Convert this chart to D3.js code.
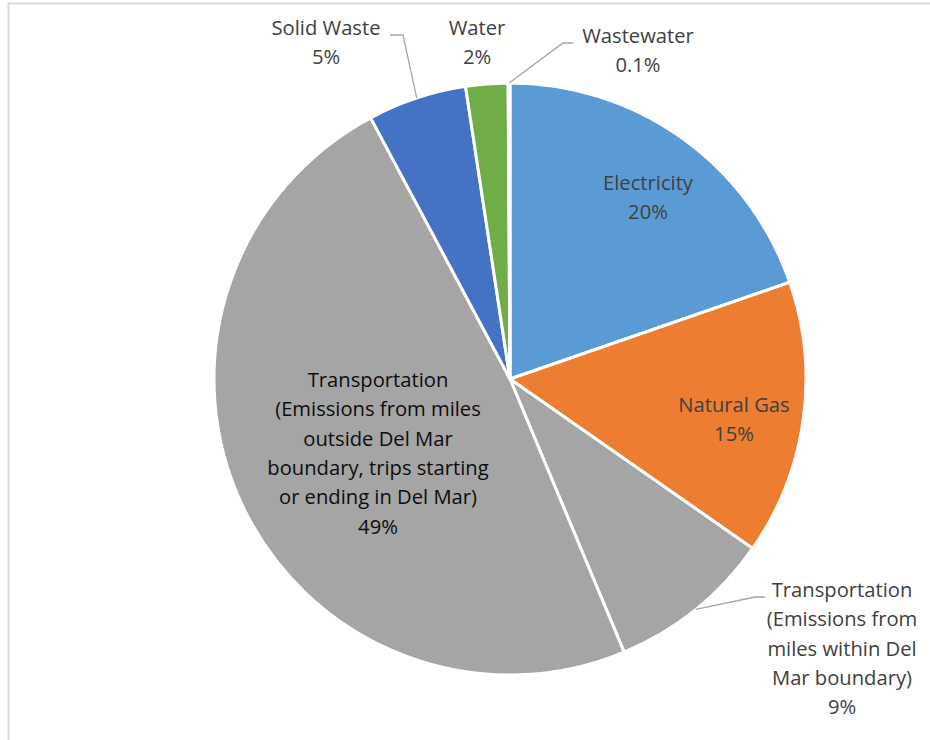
<!DOCTYPE html>
<html>
<head>
<meta charset="utf-8">
<script src="https://cdn.jsdelivr.net/npm/d3@7"></script>
<style>
  html, body { margin: 0; padding: 0; background: #fff; }
  svg { display: block; }
  text { font-family: "Open Sans", Lato, sans-serif; }
</style>
</head>
<body>
<svg id="chart" width="930" height="740"></svg>
<script>
// ---- data ----
const categories = [
  "Electricity",
  "Natural Gas",
  "Transportation (Emissions from miles within Del Mar boundary)",
  "Transportation (Emissions from miles outside Del Mar boundary, trips starting or ending in Del Mar)",
  "Solid Waste",
  "Water",
  "Wastewater"
];
const values = [19.7, 15.0, 9.0, 48.5, 5.4, 2.3, 0.1];
const percentLabels = ["20%", "15%", "9%", "49%", "5%", "2%", "0.1%"];
const labelLines = [
  ["Electricity"],
  ["Natural Gas"],
  ["Transportation", "(Emissions from", "miles within Del", "Mar boundary)"],
  ["Transportation", "(Emissions from miles", "outside Del Mar", "boundary, trips starting", "or ending in Del Mar)"],
  ["Solid Waste"],
  ["Water"],
  ["Wastewater"]
];
const colors = ["#5B9BD5", "#ED7D31", "#A5A5A5", "#A5A5A5", "#4472C4", "#70AD47", "#255E91"];

// ---- layout ----
const W = 930, H = 740;
const cx = 510, cy = 379, R = 296;
const lineH = 29.3;
const fontSize = 20.2;
// label placement: x center, first baseline, text colour, leader elbow (null = inside)
const labelLayout = [
  { x: 648, y: 190, fill: "#404040", leader: null },
  { x: 734, y: 412, fill: "#404040", leader: null },
  { x: 842, y: 597, fill: "#404040", leader: { ex: 755, ey: 597, hx: 765 } },
  { x: 378, y: 387, fill: "#0d0d0d", leader: null },
  { x: 326, y: 35, fill: "#404040", leader: { ex: 403, ey: 35, hx: 390 } },
  { x: 477, y: 35, fill: "#404040", leader: null },
  { x: 638, y: 43, fill: "#404040", leader: { ex: 563, ey: 43, hx: 573 } }
];

const svg = d3.select("#chart");

// chart-area border
svg.append("rect")
  .attr("x", 8.5).attr("y", 3.5)
  .attr("width", W + 20).attr("height", H + 20)
  .attr("fill", "#fff")
  .attr("stroke", "#d9d9d9").attr("stroke-width", 2);

const data = categories.map((c, i) => ({ name: c, value: values[i], i }));

const pie = d3.pie().sort(null).value(d => d.value);
const arcs = pie(data);
const arc = d3.arc().innerRadius(0).outerRadius(R);

const g = svg.append("g").attr("transform", `translate(${cx},${cy})`);
g.selectAll("path.slice")
  .data(arcs)
  .join("path")
  .attr("class", "slice")
  .attr("d", arc)
  .attr("fill", d => colors[d.data.i])
  .attr("stroke", "#fff")
  .attr("stroke-width", 3)
  .attr("stroke-linejoin", "round");

// leader lines
const leaderG = svg.append("g");
arcs.forEach(a => {
  const L = labelLayout[a.data.i];
  if (!L.leader) return;
  const mid = (a.startAngle + a.endAngle) / 2;
  const sx = cx + R * Math.sin(mid);
  const sy = cy - R * Math.cos(mid);
  leaderG.append("polyline")
    .attr("points", `${sx},${sy} ${L.leader.ex},${L.leader.ey} ${L.leader.hx},${L.leader.ey}`)
    .attr("fill", "none")
    .attr("stroke", "#a6a6a6")
    .attr("stroke-width", 1.3);
});

// labels
const labG = svg.append("g");
arcs.forEach(a => {
  const i = a.data.i;
  const L = labelLayout[i];
  const lines = labelLines[i].concat([percentLabels[i]]);
  const t = labG.append("text")
    .attr("x", L.x).attr("y", L.y)
    .attr("text-anchor", "middle")
    .attr("font-size", fontSize + "px")
    .attr("fill", L.fill);
  lines.forEach((ln, k) => {
    t.append("tspan")
      .attr("x", L.x)
      .attr("dy", k === 0 ? 0 : lineH)
      .text(ln);
  });
});
</script>
</body>
</html>
